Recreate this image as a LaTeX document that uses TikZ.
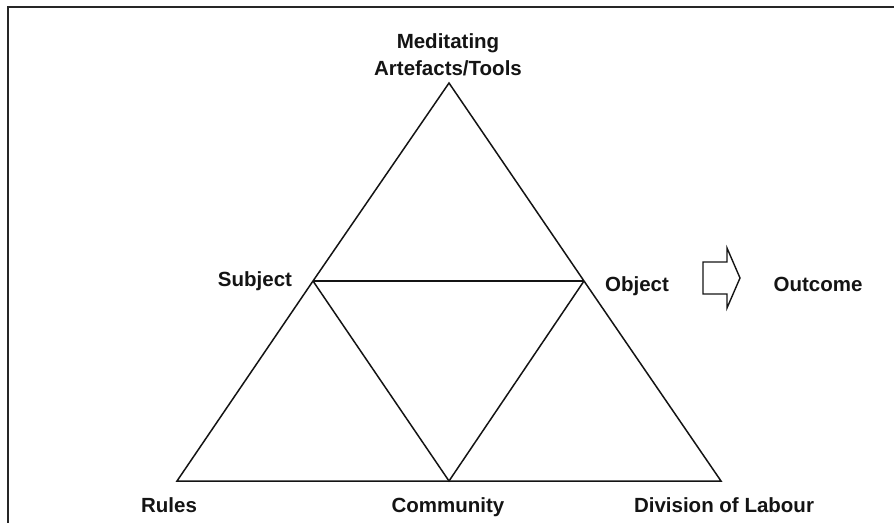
\documentclass[tikz,border=0pt]{standalone}
\usepackage{fontspec}
\setmainfont{Liberation Sans}
\begin{document}
\begin{tikzpicture}[x=1pt,y=-1pt,
  edge/.style={line width=1.5pt, draw=black!92, line join=miter},
  lbl/.style={font=\fontsize{20.5}{27}\selectfont\bfseries, text=black!92,
              inner sep=0pt, anchor=base, align=center},
  frameline/.style={line width=1.8pt, draw=black!85}]
\useasboundingbox (0,0) rectangle (894,522);

% frame (only top and left edges fall inside the page)
\draw[frameline] (8,540) -- (8,7) -- (910,7);

% corners of the nested triangles
\coordinate (apex) at (449,83);
\coordinate (subj) at (313,281);
\coordinate (obj)  at (584,281);
\coordinate (rul)  at (177,481);
\coordinate (com)  at (449,481);
\coordinate (div)  at (721,481);

% outer triangle
\draw[edge] (apex) -- (subj) -- (rul) -- (com) -- (div) -- (obj) -- cycle;
% inner triangle
\draw[edge] (subj) -- (obj);
\draw[edge] (subj) -- (com) -- (obj);

% labels (a two-line node sits on the baseline of its last line)
\node[lbl] (tools) at (448,75.5) {Meditating\\Artefacts/Tools};
\node[lbl] (lsubj) at (255,286) {Subject};
\node[lbl] (lobj)  at (637,291) {Object};
\node[lbl] (lout)  at (818,291) {Outcome};
\node[lbl] (lrul)  at (169,512) {Rules};
\node[lbl] (lcom)  at (448,512) {Community};
\node[lbl] (ldiv)  at (724,512) {Division of Labour};

% block arrow towards the outcome
\draw[edge, line width=1.4pt] (703,262) -- (727,262) -- (727,248) -- (740,278)
  -- (727,308) -- (727,294) -- (703,294) -- cycle;
\end{tikzpicture}
\end{document}
